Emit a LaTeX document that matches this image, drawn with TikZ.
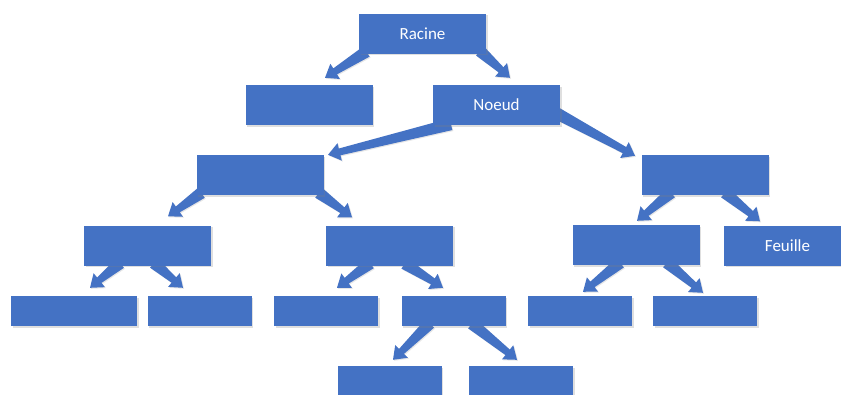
\documentclass[tikz,border=0pt]{standalone}
\usepackage{fontspec}
\setmainfont{Carlito}
\usetikzlibrary{calc,shadows,backgrounds}

\definecolor{officeblue}{HTML}{4472C4}

\tikzset{
    box/.style={fill=officeblue, text=white, inner sep=0pt,
        minimum width=127pt, minimum height=40pt,
        font=\fontsize{17}{20}\selectfont,
        drop shadow={opacity=0.25, shadow xshift=1.5pt, shadow yshift=-1.5pt}},
    small/.style={box, minimum width=104pt, minimum height=30pt},
    fleche/.style={fill=officeblue,
        drop shadow={opacity=0.2, shadow xshift=1pt, shadow yshift=-1pt}}
}

% tapered arrow from #1 (inside the parent box) to the tip #2
\newcommand\fleche[2]{%
    \coordinate (fe) at (#2);
    \coordinate (fs0) at (#1);
    \coordinate (fs) at ($(fs0)!-4pt!(fe)$);
    \coordinate (fb) at ($(fe)!12pt!(fs)$);
    \fill[fleche] ($(fs)!6pt!90:(fe)$) -- ($(fb)!3.5pt!90:(fe)$)
        -- ($(fb)!9pt!90:(fe)$) -- (fe) -- ($(fb)!9pt!-90:(fe)$)
        -- ($(fb)!3.5pt!-90:(fe)$) -- ($(fs)!6pt!-90:(fe)$) -- cycle;
}

\begin{document}
\begin{tikzpicture}[x=1pt, y=1pt]
    \useasboundingbox (0,0) rectangle (841,-394);

    % Level 0 and 1
    \node[box] (racine) at (422.5,-33.5) {Racine};
    \node[box] (vide) at (309,-105) {};
    \node[box] (noeud) at (496.5,-105) {Noeud};

    % Level 2
    \node[box] (g) at (260,-175) {};
    \node[box] (d) at (705,-175) {};

    % Level 3
    \node[box] (gg) at (147.5,-245.5) {};
    \node[box] (gd) at (389.5,-245.5) {};
    \node[box] (dg) at (636,-245) {};
    \node[box] (feuille) at (787.5,-245.5) {Feuille};

    % Level 4
    \node[small, minimum width=126pt] (gga) at (74,-311) {};
    \node[small] (ggb) at (199.5,-311) {};
    \node[small] (gda) at (326,-311) {};
    \node[small] (gdb) at (453.5,-311) {};
    \node[small] (dga) at (580,-311) {};
    \node[small] (dgb) at (705,-311) {};

    % Level 5
    \node[small] (gdba) at (389.5,-381) {};
    \node[small] (gdbb) at (521,-381) {};

    % Arrows (behind the boxes)
    \begin{scope}[on background layer]
        \fleche{[xshift=-59.5pt]racine.south}{[xshift=16pt, yshift=7pt]vide.north}
        \fleche{[xshift=60.5pt]racine.south}{[xshift=13.5pt, yshift=7pt]noeud.north}
        \fleche{[xshift=-49.5pt]noeud.south}{[xshift=68pt]g.north}
        \fleche{[yshift=10pt]noeud.south east}{[xshift=-70pt, yshift=-1pt]d.north}
        \fleche{[xshift=-62pt]g.south}{[xshift=20.5pt, yshift=9pt]gg.north}
        \fleche{[xshift=62pt]g.south}{[xshift=-37.5pt, yshift=8pt]gd.north}
        \fleche{[xshift=-37pt]d.south}{[xshift=1pt, yshift=4pt]dg.north}
        \fleche{[xshift=23pt]d.south}{[xshift=-27.5pt, yshift=4pt]feuille.north}
        \fleche{[xshift=-30.5pt]gg.south}{[xshift=16pt, yshift=8pt]gga.north}
        \fleche{[xshift=9.5pt]gg.south}{[xshift=-16.5pt, yshift=8pt]ggb.north}
        \fleche{[xshift=-22.5pt]gd.south}{[xshift=11pt, yshift=8pt]gda.north}
        \fleche{[xshift=18.5pt]gd.south}{[xshift=-10.5pt, yshift=8pt]gdb.north}
        \fleche{[xshift=-19pt]dg.south}{[xshift=3pt, yshift=4pt]dga.north}
        \fleche{[xshift=34pt]dg.south}{[xshift=-2pt, yshift=3pt]dgb.north}
        \fleche{[xshift=-26.5pt]gdb.south}{[xshift=3.5pt, yshift=6pt]gdba.north}
        \fleche{[xshift=21.5pt]gdb.south}{[xshift=-4pt, yshift=6pt]gdbb.north}
    \end{scope}

\end{tikzpicture}
\end{document}
